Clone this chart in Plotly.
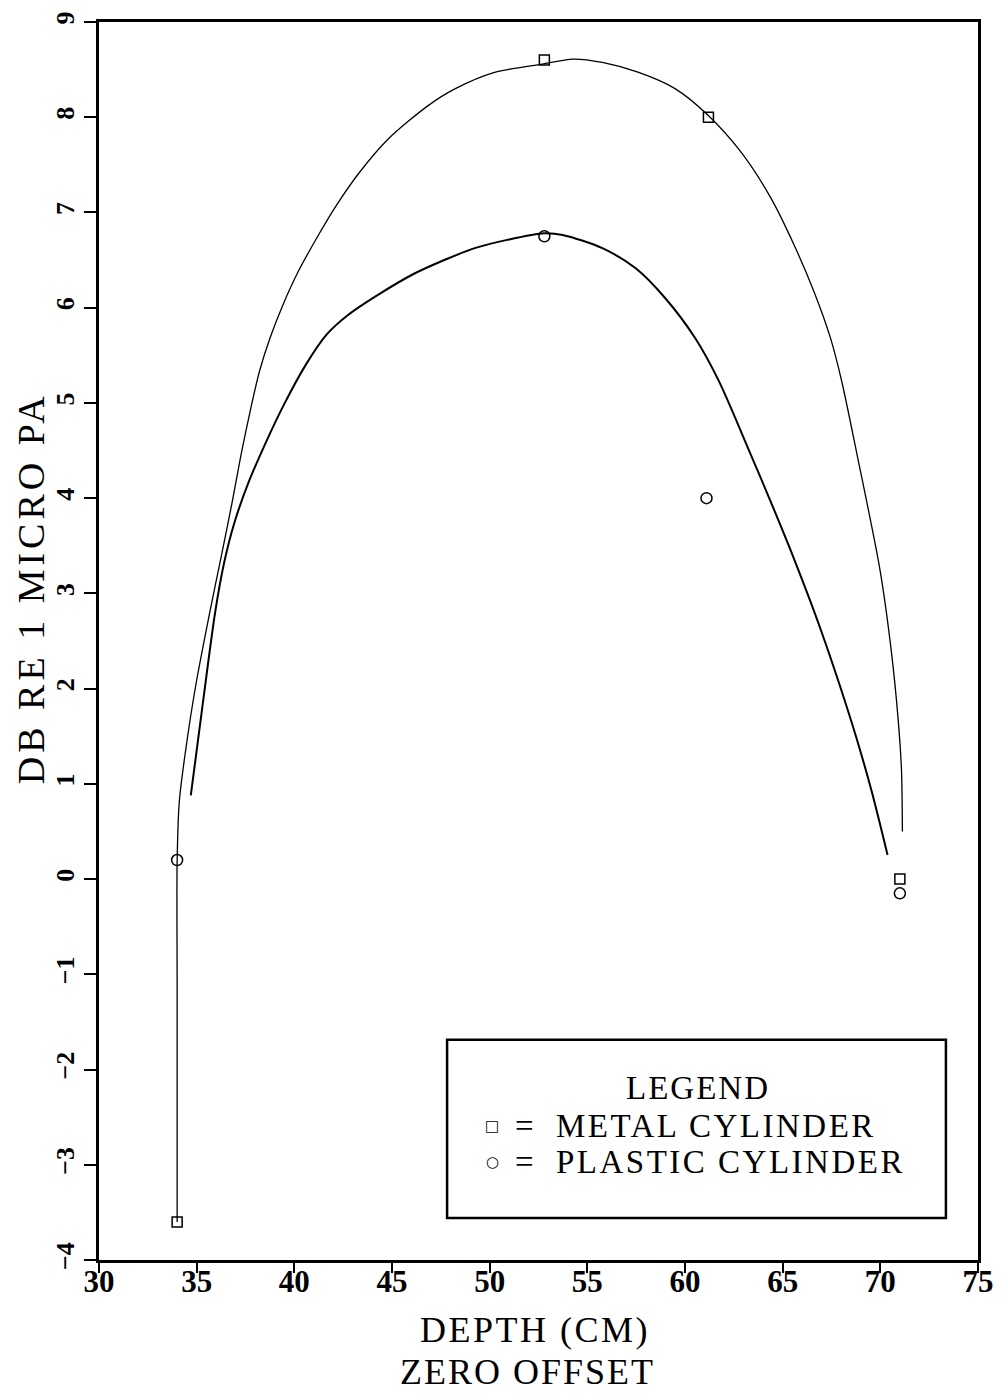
import plotly.graph_objects as go

# Measured points (depth in cm, level in dB re 1 micro Pa)
metal_depth = [34.0, 52.8, 61.2, 71.0]
metal_db = [-3.6, 8.6, 8.0, 0.0]
plastic_depth = [34.0, 52.8, 61.1, 71.0]
plastic_db = [0.2, 6.75, 4.0, -0.15]

# Fitted curves
metal_fit_depth = [34.0, 34.0, 34.0, 34.11, 34.42, 34.95, 35.66, 36.29, 36.80, 37.28, 37.82,
                   38.22, 38.76, 39.42, 40.20, 41.14, 42.16, 43.35, 44.82, 46.85, 48.22,
                   50.25, 52.69, 54.26, 55.77, 57.63, 59.49, 61.18, 62.88, 64.40, 65.58,
                   66.60, 67.45, 68.02, 68.80, 69.98, 70.57, 70.91, 71.08, 71.13]
metal_fit_db = [-3.6, -1.1, 0.18, 0.81, 1.33, 2.03, 2.79, 3.42, 3.94, 4.465, 4.99,
                5.335, 5.684, 6.032, 6.38, 6.729, 7.077, 7.425, 7.774, 8.122, 8.297,
                8.47, 8.558, 8.61, 8.575, 8.47, 8.30, 8.02, 7.63, 7.15, 6.66,
                6.17, 5.68, 5.23, 4.465, 3.25, 2.38, 1.68, 1.16, 0.50]

plastic_fit_depth = [34.70, 35.32, 35.94, 36.40, 36.92, 37.63, 38.51, 39.48, 40.60, 41.66,
                     42.78, 44.30, 46.03, 47.71, 49.28, 50.90, 52.78, 53.74, 55.77, 57.46,
                     58.98, 60.51, 61.73, 63.35, 64.43, 65.37, 66.26, 67.01, 67.88, 68.77,
                     69.57, 70.37]
plastic_fit_db = [0.88, 1.853, 2.793, 3.316, 3.734, 4.152, 4.57, 4.987, 5.405, 5.719,
                  5.928, 6.137, 6.346, 6.503, 6.628, 6.712, 6.782, 6.764, 6.625, 6.416,
                  6.102, 5.684, 5.231, 4.465, 3.943, 3.472, 3.002, 2.584, 2.062, 1.487,
                  0.912, 0.254]

x_ticks = [30, 35, 40, 45, 50, 55, 60, 65, 70, 75]
y_ticks = [-4, -3, -2, -1, 0, 1, 2, 3, 4, 5, 6, 7, 8, 9]

SERIF = "Liberation Serif, Times New Roman, serif"
SYMBOLS = "DejaVu Sans, sans-serif"

fig = go.Figure()

fig.add_trace(go.Scatter(x=metal_fit_depth, y=metal_fit_db, mode="lines",
                         line=dict(color="black", width=1.3, shape="spline", smoothing=0.8),
                         showlegend=False, hoverinfo="skip"))
fig.add_trace(go.Scatter(x=plastic_fit_depth, y=plastic_fit_db, mode="lines",
                         line=dict(color="black", width=2.0, shape="spline", smoothing=0.8),
                         showlegend=False, hoverinfo="skip"))
fig.add_trace(go.Scatter(x=metal_depth, y=metal_db, mode="markers", name="METAL CYLINDER",
                         marker=dict(symbol="square-open", size=10, color="black",
                                     line=dict(color="black", width=1.5)),
                         showlegend=False))
fig.add_trace(go.Scatter(x=plastic_depth, y=plastic_db, mode="markers", name="PLASTIC CYLINDER",
                         marker=dict(symbol="circle-open", size=11, color="black",
                                     line=dict(color="black", width=1.5)),
                         showlegend=False))

axis_common = dict(showgrid=False, zeroline=False, showline=True, mirror=True,
                   linecolor="black", linewidth=2.5, ticks="outside",
                   tickwidth=1.5, tickcolor="black")

fig.update_xaxes(range=[30, 75], tickvals=x_ticks, ticktext=[str(v) for v in x_ticks],
                 ticklen=10, ticklabelstandoff=-18,
                 tickfont=dict(family=SERIF, size=31, color="black", weight="bold"),
                 **axis_common)
fig.update_yaxes(range=[-4, 9], tickvals=y_ticks,
                 ticktext=[("\u2212" + str(-v)) if v < 0 else str(v) for v in y_ticks],
                 tickangle=-90, ticklen=12,
                 tickfont=dict(family=SERIF, size=26, color="black", weight="bold"),
                 **axis_common)


def paper_label(text, x, y, size, anchor="center", angle=0, family=SERIF, spacing=0):
    if spacing:
        text = "<span style='letter-spacing:%spx'>%s</span>" % (spacing, text)
    return dict(text=text, x=x, y=y, xref="paper", yref="paper", textangle=angle,
                showarrow=False, xanchor=anchor, yanchor="middle",
                font=dict(family=family, size=size, color="black"))


annotations = [
    paper_label("DB RE 1 MICRO PA", -0.078, 0.543, 38, angle=-90, spacing=4),
    paper_label("DEPTH (CM)", 0.496, -0.0565, 36, spacing=2.5),
    paper_label("ZERO OFFSET", 0.487, -0.0905, 36, spacing=2),
    # legend box contents
    paper_label("LEGEND", 0.682, 0.139, 33, spacing=2),
    paper_label("\u25a1", 0.4476, 0.1085, 15, family=SYMBOLS),
    paper_label("=", 0.4837, 0.1085, 33),
    paper_label("METAL CYLINDER", 0.5175, 0.1085, 33, anchor="left", spacing=2.5),
    paper_label("\u25cb", 0.4476, 0.0788, 15, family=SYMBOLS),
    paper_label("=", 0.4837, 0.0788, 33),
    paper_label("PLASTIC CYLINDER", 0.5175, 0.0788, 33, anchor="left", spacing=2.5),
]

shapes = [
    dict(type="rect", xref="paper", yref="paper", x0=0.396, x1=0.9635, y0=0.034, y1=0.178,
         line=dict(color="black", width=2.5), fillcolor="rgba(0,0,0,0)"),
]

fig.update_layout(
    width=1006, height=1394,
    margin=dict(l=99, r=20, t=16, b=134),
    paper_bgcolor="white", plot_bgcolor="white",
    annotations=annotations, shapes=shapes,
    showlegend=False,
)

fig.write_html("out.html")
